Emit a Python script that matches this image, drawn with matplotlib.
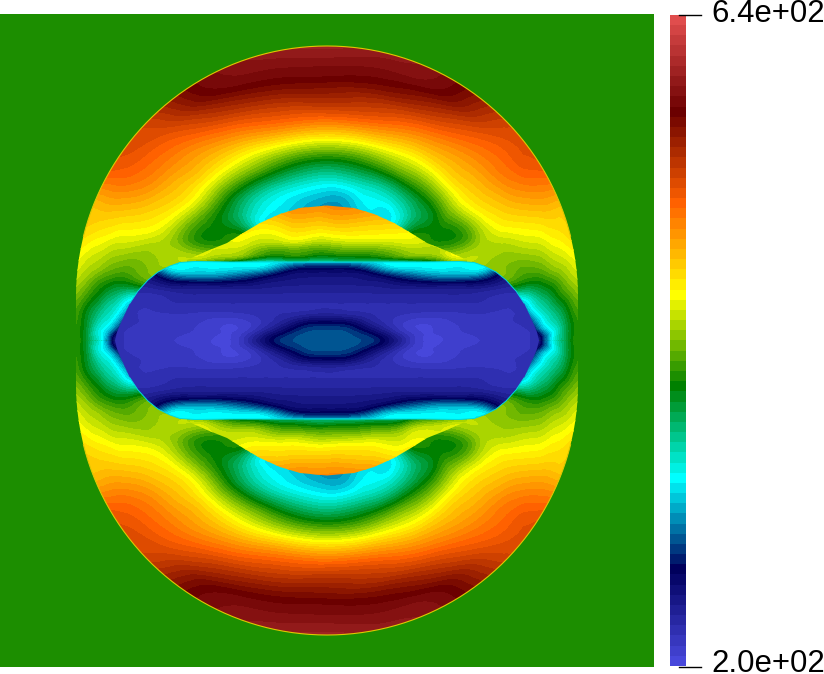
import numpy as np
import matplotlib
matplotlib.use('Agg')
import matplotlib.pyplot as plt
import matplotlib.tri as mtri
from matplotlib.colors import LinearSegmentedColormap, Normalize
from matplotlib.patches import Polygon

W, H = 824, 674

# Colour scale (ParaView rainbow desaturated, 64 steps)
vmin, vmax = 200.0, 640.0
map_colors = ['#4747db', '#00005c', '#00ffff', '#008000', '#ffff00', '#ff6100', '#6b0000', '#e04d4d']
tick_labels = ['6.4e+02', '2.0e+02']

# Still gas outside the shock
ambient = 394.0

# Field behind the shock, read along rays from the centre of the upper arc
ring_angle = [90, 75, 60, 45, 37, 30, 22, 15, 8, 4, 0, -4, -8, -11, -15]
ring_radius = [80, 100, 120, 140, 160, 180, 200, 210, 220, 230, 240, 250, 265]
ring_p = [
    [295, 308, 345, 396, 458, 514, 552, 565, 577, 584, 592, 600, 612],
    [305, 315, 348, 398, 455, 508, 542, 558, 572, 581, 588, 594, 607],
    [315, 322, 345, 398, 445, 485, 520, 537, 552, 568, 577, 580, 590],
    [340, 340, 358, 392, 440, 475, 495, 505, 514, 523, 530, 535, 550],
    [395, 390, 380, 396, 440, 470, 490, 500, 508, 515, 522, 525, 540],
    [405, 400, 392, 394, 428, 462, 480, 490, 498, 505, 510, 515, 525],
    [415, 415, 412, 402, 418, 445, 460, 465, 470, 475, 478, 478, 490],
    [435, 435, 435, 435, 432, 428, 435, 440, 444, 452, 458, 465, 470],
    [420, 420, 420, 420, 420, 420, 410, 412, 418, 428, 435, 445, 450],
    [400, 400, 400, 400, 400, 400, 388, 388, 395, 405, 420, 432, 440],
    [320, 320, 320, 320, 325, 330, 338, 355, 368, 385, 400, 415, 420],
    [260, 260, 260, 260, 260, 260, 300, 328, 345, 360, 380, 400, 405],
    [230, 230, 230, 230, 230, 230, 250, 280, 315, 335, 365, 393, 398],
    [230, 230, 230, 230, 230, 230, 230, 230, 270, 328, 360, 390, 398],
    [230, 230, 230, 230, 230, 230, 230, 240, 295, 325, 352, 385, 400],
]

# Hot cap above the body (pixel positions, upper left quarter)
lens_x = [327, 287, 247, 207, 167]
lens_y = [204, 212, 220, 228, 236, 244, 252, 258, 264]
lens_p = [
    [498, 495, 485, 470, 455],
    [490, 488, 480, 465, 450],
    [478, 476, 470, 458, 448],
    [464, 464, 460, 452, 445],
    [448, 452, 450, 447, 440],
    [425, 432, 440, 445, 440],
    [400, 405, 425, 442, 440],
    [375, 382, 400, 430, 430],
    [326, 326, 330, 385, 405],
]
lens_edge_x = [327, 300, 280, 260, 243, 227, 207, 187]
lens_edge_y = [205.5, 208, 214, 223, 233, 243, 251, 260]

# Inside of the body
body_x = [327, 307, 287, 267, 247, 227, 207, 187, 167, 147, 127, 107]
body_y = [260, 266, 272, 278, 284, 292, 302, 314, 322, 332, 340.5]
body_p = [
    [322, 322, 324, 326, 326, 326, 326, 326, 326, 300, 280, 260],
    [275, 275, 290, 318, 326, 326, 326, 326, 322, 270, 255, 245],
    [255, 255, 262, 285, 300, 310, 314, 315, 300, 250, 245, 240],
    [247, 247, 250, 258, 272, 282, 288, 285, 270, 245, 240, 235],
    [242, 242, 243, 246, 252, 255, 255, 255, 250, 238, 235, 232],
    [235, 235, 235, 236, 236, 236, 236, 236, 232, 228, 228, 228],
    [228, 228, 228, 228, 228, 228, 228, 228, 226, 222, 224, 226],
    [235, 232, 228, 224, 220, 218, 218, 220, 220, 220, 222, 226],
    [262, 258, 240, 224, 212, 208, 212, 216, 218, 220, 222, 228],
    [285, 282, 265, 240, 215, 206, 210, 214, 216, 218, 220, 226],
    [288, 285, 280, 258, 225, 205, 208, 212, 215, 218, 220, 226],
]
body_edge_x = [327, 230, 195, 180, 170, 158, 148, 138, 130, 124, 120, 117, 115]
body_edge_y = [262, 262, 261.5, 262.5, 266, 272, 280, 291, 303, 316, 325, 332, 340.5]

# Shock front: two arcs joined by short straight sides
shock_radius = 251.0
shock_cx, shock_top_cy = 327.0, 297.0

levels = np.linspace(vmin, vmax, 65)
cmap = LinearSegmentedColormap.from_list('rainbow_desat', map_colors, N=64)
norm = Normalize(vmin, vmax)


def mirror_table(xs, ys, table):
    # quarter table -> whole field, left/right about x=327, up/down about y=340.5
    xs = np.array(xs, dtype=float)[::-1]
    ys = np.array(ys, dtype=float)
    z = np.array(table, dtype=float)[:, ::-1]
    x_full = np.concatenate([xs, 654 - xs[-2::-1]])
    y_full = np.concatenate([ys, 681 - ys[-2::-1]])
    z = np.hstack([z, z[:, -2::-1]])
    z = np.vstack([z, z[-2::-1]])
    return x_full, y_full, z


def mirror_outline(xs, ys):
    xs = np.array(xs, dtype=float)
    ys = np.array(ys, dtype=float)
    return np.concatenate([xs[::-1], 654 - xs[1:]]), np.concatenate([ys[::-1], ys[1:]])


def grid_triangles(nrow, ncol):
    idx = np.arange(nrow * ncol).reshape(nrow, ncol)
    a, b, c, d = idx[:-1, :-1].ravel(), idx[:-1, 1:].ravel(), idx[1:, :-1].ravel(), idx[1:, 1:].ravel()
    return np.vstack([np.column_stack([a, b, c]), np.column_stack([b, d, c])])


def fill_bands(ax, gx, gy, z, clip_xy):
    tri = mtri.Triangulation(gx.ravel(), gy.ravel(), grid_triangles(*gx.shape))
    fine, fine_z = mtri.UniformTriRefiner(tri).refine_field(z.ravel(), subdiv=3)
    clip = Polygon(clip_xy, closed=True, fill=False, lw=0, transform=ax.transData)
    ax.add_patch(clip)
    cs = ax.tricontourf(fine, np.clip(fine_z, vmin + 0.1, vmax - 0.1), levels=levels,
                        cmap=cmap, norm=norm, antialiased=False)
    cs.set_clip_path(clip)


def draw_field(ax, xs, ys, table, clip_xy):
    x_full, y_full, z = mirror_table(xs, ys, table)
    gx, gy = np.meshgrid(x_full, y_full)
    fill_bands(ax, gx, gy, z, clip_xy)


fig = plt.figure(figsize=(W / 100, H / 100), dpi=100, facecolor='white')

# Main picture, axes in reference pixels
ax = fig.add_axes([0, 1 - 667 / H, 654 / W, 653 / H])
ax.set_xlim(0, 654)
ax.set_ylim(667, 14)
ax.axis('off')
ax.add_patch(plt.Rectangle((0, 14), 654, 653, color=cmap(norm(ambient)), lw=0))

# Ring behind the shock, same rays on both sides, drawn for upper and lower half
ang = np.array(ring_angle, dtype=float)
ang_full = np.concatenate([ang[::-1], 180 - ang[1:]])
ring = np.array(ring_p, dtype=float)
ring_full = np.vstack([ring[::-1], ring[1:]])
rad = np.array(ring_radius, dtype=float)
gx = shock_cx - rad[None, :] * np.cos(np.radians(ang_full))[:, None]
gy = shock_top_cy - rad[None, :] * np.sin(np.radians(ang_full))[:, None]

a = np.radians(np.linspace(0, 180, 181))
top_x = shock_cx - shock_radius * np.cos(a)
top_y = shock_top_cy - shock_radius * np.sin(a)
top_half = np.column_stack([np.r_[top_x[0], top_x, top_x[-1]], np.r_[340.5, top_y, 340.5]])
bottom_half = np.column_stack([top_half[:, 0], 681 - top_half[:, 1]])
fill_bands(ax, gx, gy, ring_full, top_half)
fill_bands(ax, gx, 681 - gy, ring_full, bottom_half)

# Thin bright front
ax.plot(top_x[14:167], top_y[14:167], color='#e0c800', lw=0.8)
ax.plot(top_x[14:167], 681 - top_y[14:167], color='#e0c800', lw=0.8)

# Cap above and below the body
ex, ey = mirror_outline(lens_edge_x, lens_edge_y)
lens_xy = np.column_stack([np.r_[ex, ex[::-1]], np.r_[ey, 681 - ey[::-1]]])
draw_field(ax, lens_x, lens_y, lens_p, lens_xy)

# Body
ex, ey = mirror_outline(body_edge_x, body_edge_y)
body_outline = np.column_stack([np.r_[ex[::-1], ex], np.r_[ey[::-1], 681 - ey]])
draw_field(ax, body_x, body_y, body_p, body_outline)
line_x = np.where((ex > 124) & (ex < 530), ex, np.nan)
ax.plot(line_x, ey, color='#00d8e0', lw=0.7)
ax.plot(line_x, 681 - ey, color='#00d8e0', lw=0.7)

# Colour bar
cax = fig.add_axes([670 / W, 1 - 666 / H, 16 / W, 651 / H])
cax.imshow(np.linspace(vmax, vmin, 64)[:, None], aspect='auto', cmap=cmap, norm=norm,
           extent=[0, 1, vmin, vmax], interpolation='nearest')
cax.axis('off')

for px_y, baseline, label in zip([14.5, 666.5], [22, 672], tick_labels):
    fig.add_artist(plt.Line2D([679 / W, 701 / W], [1 - px_y / H] * 2, color='black', lw=1))
    fig.text(711 / W, 1 - baseline / H, label, fontsize=22.4, family='Liberation Sans',
             color='black', va='baseline', ha='left')

fig.savefig('out.png', dpi=100)
